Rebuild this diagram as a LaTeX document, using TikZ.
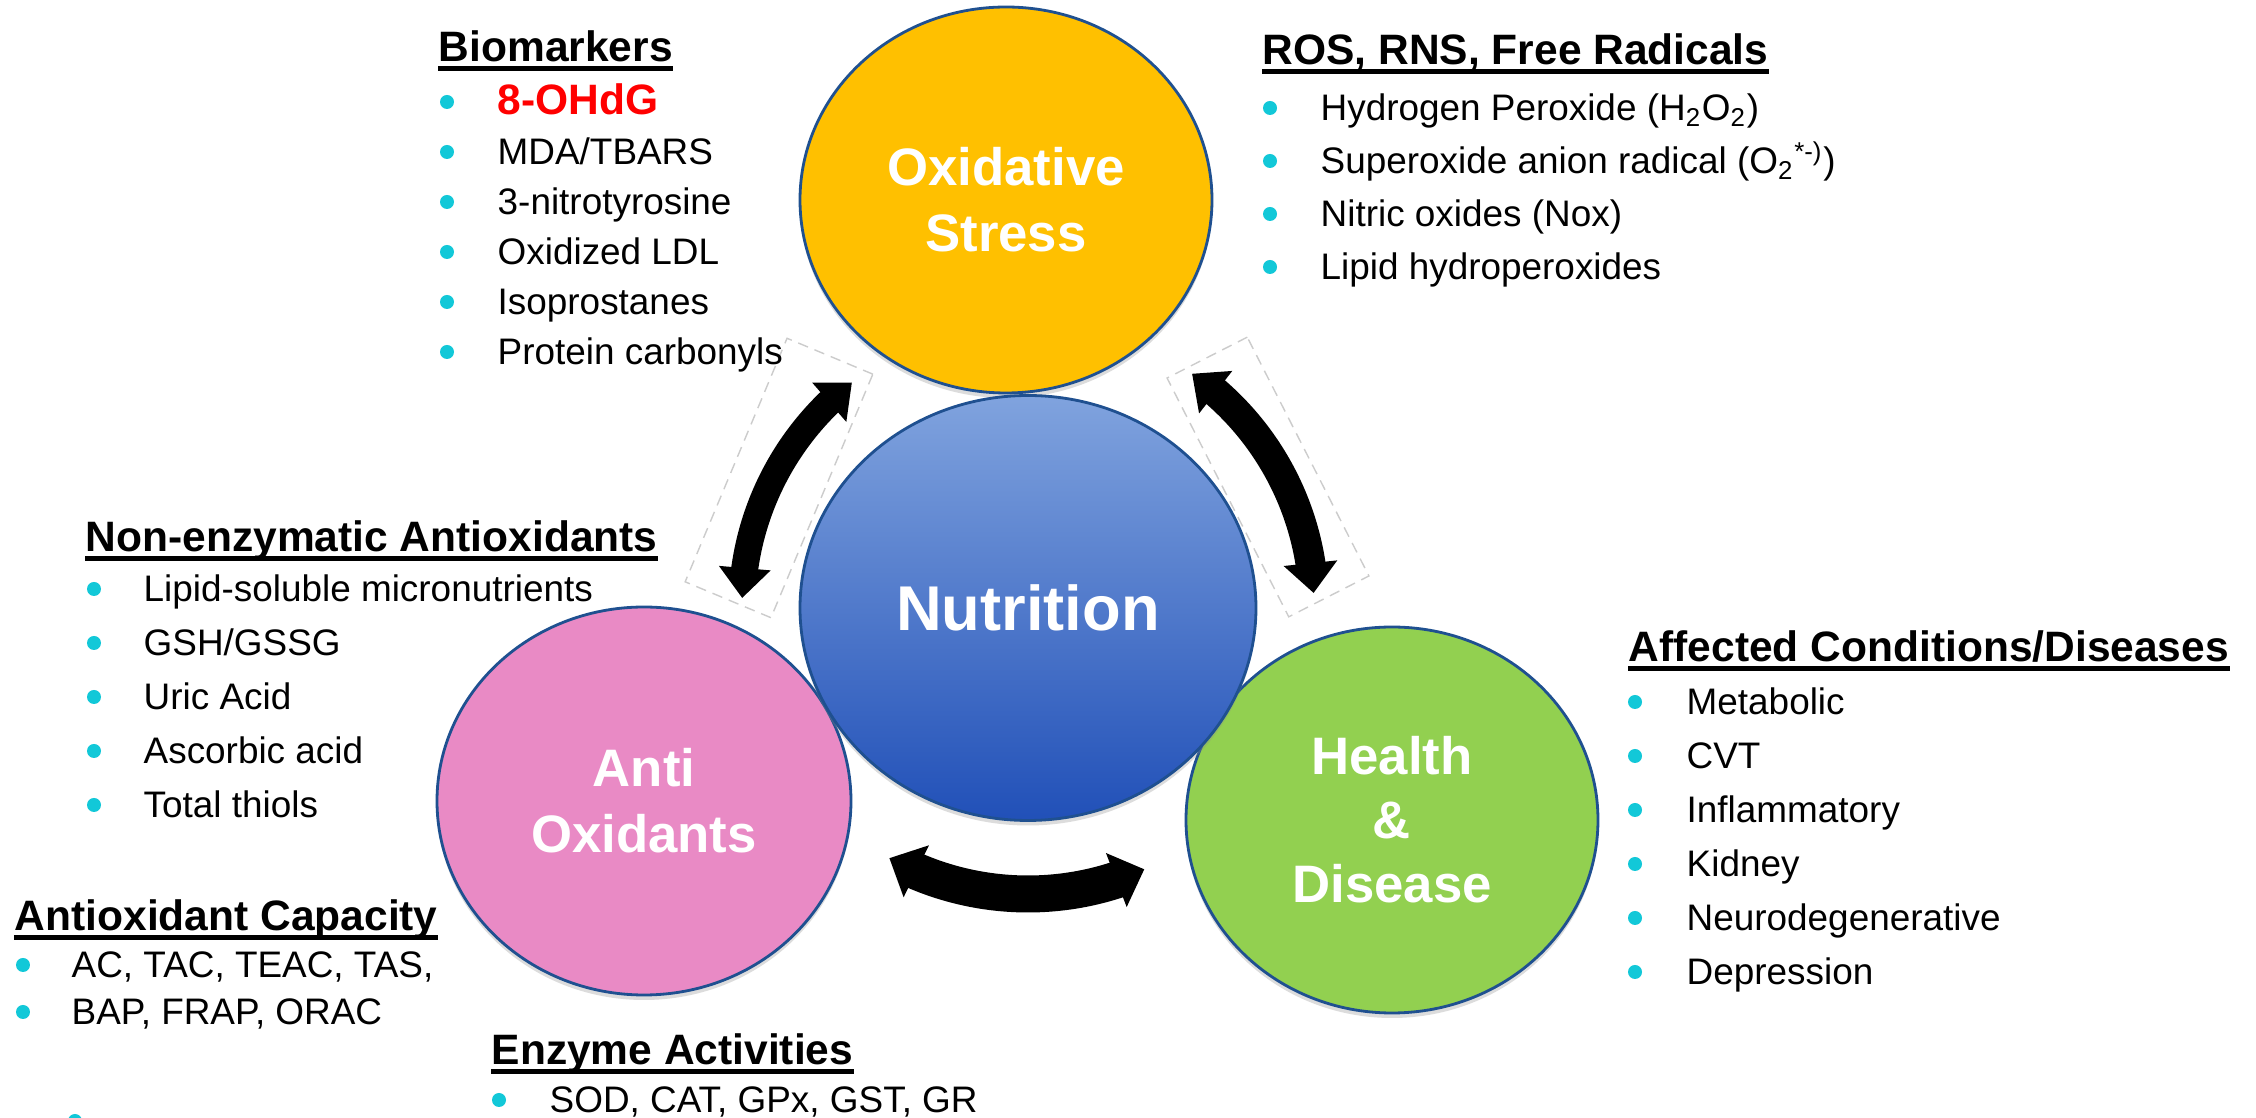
\documentclass[tikz,border=0pt]{standalone}
\usepackage{fontspec}
\setmainfont{Liberation Sans}
\usetikzlibrary{calc}
\usetikzlibrary{arrows.meta, bending}
\usetikzlibrary{shapes.geometric, shadows}

\definecolor{oxyellow}{HTML}{FFC000}
\definecolor{aopink}{HTML}{E98AC5}
\definecolor{hdgreen}{HTML}{92D050}
\definecolor{nutop}{HTML}{80A3DE}
\definecolor{numid}{HTML}{527FD0}
\definecolor{nubot}{HTML}{2150B8}
\definecolor{rimblue}{HTML}{1F5090}
\definecolor{bulcyan}{HTML}{12C8D8}

\begin{document}
\begin{tikzpicture}[
  bubble/.style={ellipse, draw=rimblue, line width=0.8pt, text=white,
    font=\fontsize{15}{18.7}\selectfont\bfseries, align=center,
    minimum width=4.12cm, minimum height=3.86cm,
    drop shadow={shadow xshift=0pt, shadow yshift=-0.05cm, fill=black!45, opacity=0.3}},
  head/.style={anchor=base west, inner sep=0pt, text depth=0.17em,
    font=\fontsize{12.1}{14}\selectfont\bfseries},
  uline/.style={line width=1.3pt},
  item/.style={anchor=base west, inner sep=0pt, font=\fontsize{10.5}{12}\selectfont},
  bul/.style={circle, fill=bulcyan, inner sep=0pt, minimum size=0.14cm},
  gbox/.style={rectangle, draw=black!20, densely dashed, line width=0.4pt, inner sep=0pt},
  cycarrow/.style={{Triangle[length=0.3cm, width=#1]}-{Triangle[length=0.3cm, width=#1]}}
]
\useasboundingbox (0,0) rectangle (22.56,-11.18);
\fill[white] (0,0) rectangle (22.56,-11.18);

% circles
\node[bubble, fill=oxyellow] (ox) at (10.06,-2.00) {Oxidative\\Stress};
\node[bubble, fill=aopink, minimum width=4.14cm, minimum height=3.88cm] (ao) at (6.44,-8.01) {Anti\\Oxidants};
\node[bubble, fill=hdgreen, font=\fontsize{15}{18.2}\selectfont\bfseries] (hd) at (13.92,-8.20) {Health\\\&\\Disease};
\node[bubble, top color=nutop, middle color=numid, bottom color=nubot,
  minimum width=4.56cm, minimum height=4.25cm, font=\fontsize{18}{21}\selectfont\bfseries] (nu) at (10.28,-6.08) {Nutrition};

% selection boxes
\node[gbox, rotate=-22.7, minimum width=0.93cm, minimum height=2.64cm] (lbox) at (7.79,-4.78) {};
\node[gbox, rotate=27, minimum width=0.90cm, minimum height=2.68cm] (rbox) at (12.68,-4.77) {};

% cycle arrows round the centre
\foreach \nm/\a/\b/\w/\hw in {lft/128/178/0.27/0.50, rgt/55/3/0.30/0.52, btm/241/294/0.37/0.56} {
  \coordinate (\nm) at ($(nu.center)+(\a:2.86)$);
  \draw[cycarrow=\hw cm, line width=\w cm] (\nm) arc[start angle=\a, end angle=\b, radius=2.86];
}

% Biomarkers
\node[head] (bmh) at (4.38,-0.62) {Biomarkers};
\draw[uline] (bmh.south west) -- (bmh.south east);
\foreach \t [count=\i] in {{\textcolor{red}{\fontsize{12.1}{14}\selectfont\bfseries 8-OHdG}}, MDA/TBARS, 3-nitrotyrosine, Oxidized LDL, Isoprostanes, Protein carbonyls} {
  \node[bul] (bmb\i) at (4.47,{-1.02-0.50*(\i-1)}) {};
  \node[item] (bm\i) at (4.97,{-1.15-0.50*(\i-1)}) {\t};
}

% ROS
\node[head] (rsh) at (12.62,-0.65) {ROS, RNS, Free Radicals};
\draw[uline] (rsh.south west) -- (rsh.south east);
\foreach \t [count=\i] in {Hydrogen Peroxide (H\textsubscript{2}O\textsubscript{2}), Superoxide anion radical (O\textsubscript{2}\textsuperscript{*-)}), Nitric oxides (Nox), Lipid hydroperoxides} {
  \node[bul] (rsb\i) at (12.70,{-1.08-0.53*(\i-1)}) {};
  \node[item] (rs\i) at (13.20,{-1.21-0.53*(\i-1)}) {\t};
}

% Non-enzymatic
\node[head] (neh) at (0.85,-5.52) {Non-enzymatic Antioxidants};
\draw[uline] (neh.south west) -- (neh.south east);
\foreach \t [count=\i] in {Lipid-soluble micronutrients, GSH/GSSG, Uric Acid, Ascorbic acid, Total thiols} {
  \node[bul] (neb\i) at (0.94,{-5.89-0.54*(\i-1)}) {};
  \node[item] (ne\i) at (1.43,{-6.02-0.54*(\i-1)}) {\t};
}

% Antioxidant capacity
\node[head] (ach) at (0.14,-9.31) {Antioxidant Capacity};
\draw[uline] (ach.south west) -- (ach.south east);
\foreach \t [count=\i] in {{AC, TAC, TEAC, TAS,}, {BAP, FRAP, ORAC}} {
  \node[bul] (acb\i) at (0.23,{-9.65-0.47*(\i-1)}) {};
  \node[item] (ac\i) at (0.71,{-9.78-0.47*(\i-1)}) {\t};
}
\node[bul] (acb3) at (0.75,-11.21) {};

% Enzymes
\node[head] (enh) at (4.91,-10.65) {Enzyme Activities};
\draw[uline] (enh.south west) -- (enh.south east);
\node[bul] (enb1) at (4.99,-11.00) {};
\node[item] (en1) at (5.49,-11.13) {SOD, CAT, GPx, GST, GR};

% Affected
\node[head] (afh) at (16.28,-6.62) {Affected Conditions/Diseases};
\draw[uline] (afh.south west) -- (afh.south east);
\foreach \t [count=\i] in {Metabolic, CVT, Inflammatory, Kidney, Neurodegenerative, Depression} {
  \node[bul] (afb\i) at (16.35,{-7.02-0.54*(\i-1)}) {};
  \node[item] (af\i) at (16.86,{-7.15-0.54*(\i-1)}) {\t};
}
\end{tikzpicture}
\end{document}
